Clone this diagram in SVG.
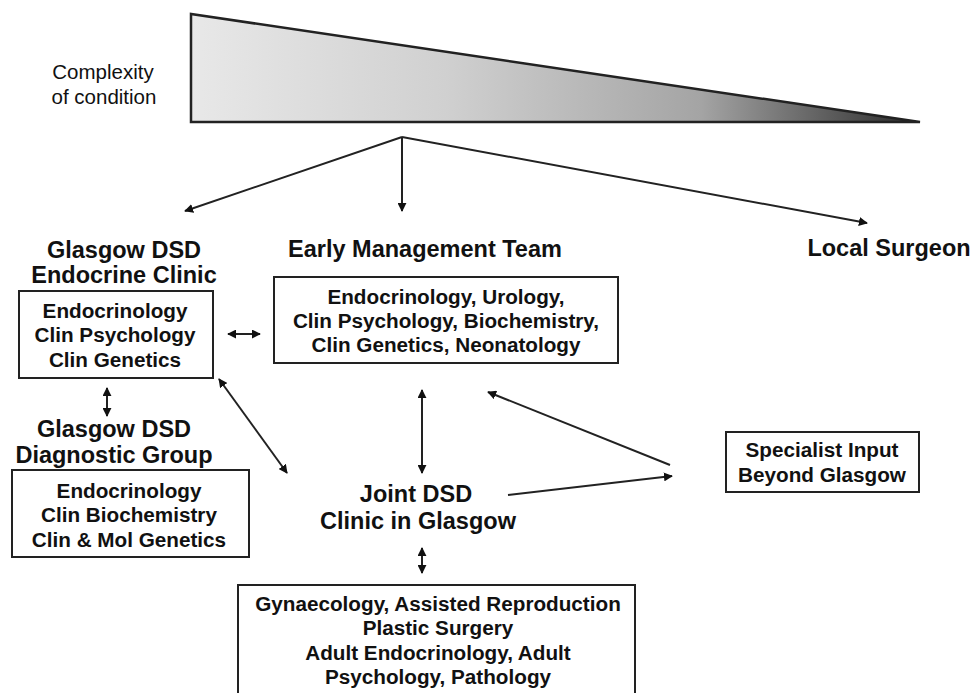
<svg xmlns="http://www.w3.org/2000/svg" width="973" height="693" viewBox="0 0 973 693">
<defs>
<linearGradient id="grad" x1="0" y1="0" x2="1" y2="0">
<stop offset="0" stop-color="#e8e8e8"/>
<stop offset="0.35" stop-color="#d0d0d0"/>
<stop offset="0.7" stop-color="#a4a4a4"/>
<stop offset="1" stop-color="#2a2a2a"/>
</linearGradient>
<marker id="ah" viewBox="0 0 10 10" refX="9" refY="5" markerWidth="4.5" markerHeight="4.5" orient="auto-start-reverse">
<path d="M0,0 L10,5 L0,10 z" fill="#111"/>
</marker>
</defs>
<style>
.t{font-family:"Liberation Sans",Arial,sans-serif;fill:#111;text-anchor:middle}
.h{font-size:23.5px;font-weight:bold}
.b{font-size:20.7px;font-weight:bold}
.n{font-size:20.5px}
.box{fill:#fff;stroke:#222;stroke-width:2}
.c{stroke:#222;stroke-width:2;fill:none}
</style>
<rect width="973" height="693" fill="#fff"/>
<g id="complexity">
<polygon points="191,14 191,122 920,122" fill="url(#grad)" stroke="#222" stroke-width="2.5"/>
<text class="t n" x="103" y="79">Complexity</text>
<text class="t n" x="104" y="104">of condition</text>
</g>
<g id="endocrine-clinic">
<text class="t h" x="124" y="258">Glasgow DSD</text>
<text class="t h" x="124" y="283">Endocrine Clinic</text>
<rect class="box" x="19" y="291" width="194" height="87"/>
<text class="t b" x="115" y="318">Endocrinology</text>
<text class="t b" x="115" y="342">Clin Psychology</text>
<text class="t b" x="115" y="367">Clin Genetics</text>
</g>
<g id="early-management">
<text class="t h" x="425" y="257">Early Management Team</text>
<rect class="box" x="274" y="277" width="344" height="86"/>
<text class="t b" x="446" y="304">Endocrinology, Urology,</text>
<text class="t b" x="446" y="328">Clin Psychology, Biochemistry,</text>
<text class="t b" x="446" y="352">Clin Genetics, Neonatology</text>
</g>
<g id="local-surgeon">
<text class="t h" x="889" y="256">Local Surgeon</text>
</g>
<g id="diagnostic-group">
<text class="t h" x="114" y="437">Glasgow DSD</text>
<text class="t h" x="114" y="463">Diagnostic Group</text>
<rect class="box" x="12" y="470" width="237" height="87"/>
<text class="t b" x="129" y="498">Endocrinology</text>
<text class="t b" x="129" y="522">Clin Biochemistry</text>
<text class="t b" x="129" y="547">Clin &amp; Mol Genetics</text>
</g>
<g id="joint-clinic">
<text class="t h" x="416" y="502">Joint DSD</text>
<text class="t h" x="418" y="529">Clinic in Glasgow</text>
</g>
<g id="specialist-input">
<rect class="box" x="726" y="432" width="193" height="60"/>
<text class="t b" x="822" y="457">Specialist Input</text>
<text class="t b" x="822" y="482">Beyond Glasgow</text>
</g>
<g id="adult-services">
<rect class="box" x="238" y="585" width="397" height="120"/>
<text class="t b" x="438" y="611">Gynaecology, Assisted Reproduction</text>
<text class="t b" x="438" y="635">Plastic Surgery</text>
<text class="t b" x="438" y="660">Adult Endocrinology, Adult</text>
<text class="t b" x="438" y="684">Psychology, Pathology</text>
</g>
<g id="connectors">
<line class="c" x1="402" y1="137" x2="185" y2="211" marker-end="url(#ah)"/>
<line class="c" x1="402" y1="137" x2="402" y2="211" marker-end="url(#ah)"/>
<line class="c" x1="402" y1="137" x2="867" y2="223" marker-end="url(#ah)"/>
<line class="c" x1="228" y1="334" x2="260" y2="334" marker-start="url(#ah)" marker-end="url(#ah)"/>
<line class="c" x1="107" y1="388" x2="107" y2="416" marker-start="url(#ah)" marker-end="url(#ah)"/>
<line class="c" x1="219" y1="379" x2="287" y2="473" marker-start="url(#ah)" marker-end="url(#ah)"/>
<line class="c" x1="422" y1="390" x2="422" y2="473" marker-start="url(#ah)" marker-end="url(#ah)"/>
<line class="c" x1="670" y1="465" x2="488" y2="392" marker-end="url(#ah)"/>
<line class="c" x1="508" y1="495" x2="672" y2="476" marker-end="url(#ah)"/>
<line class="c" x1="422" y1="548" x2="422" y2="573" marker-start="url(#ah)" marker-end="url(#ah)"/>
</g>
</svg>
